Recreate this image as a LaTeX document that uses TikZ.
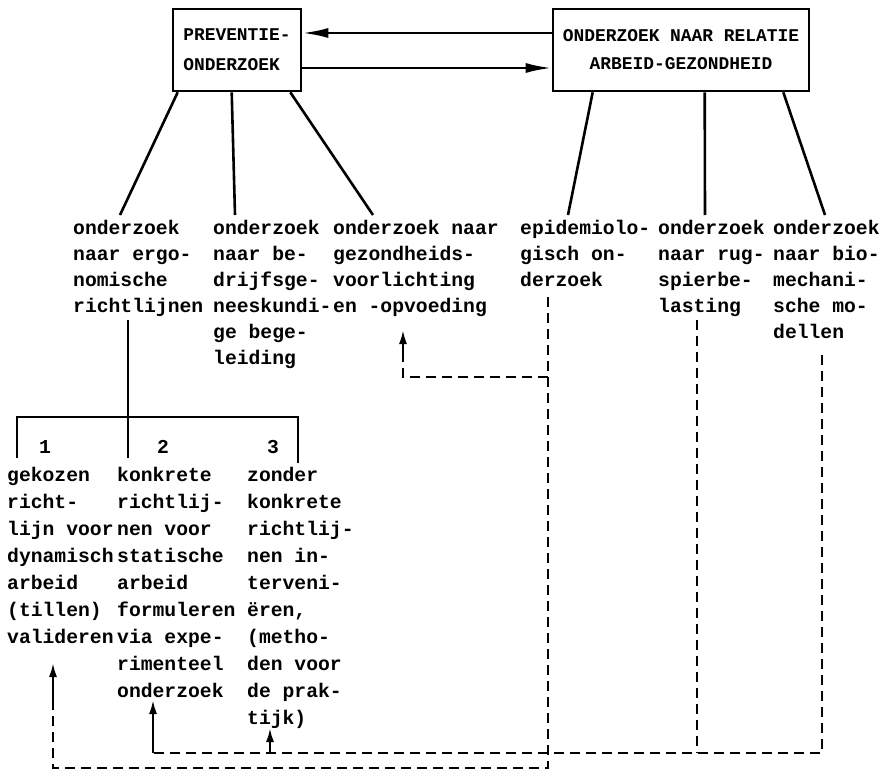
\documentclass[tikz,border=0pt]{standalone}
\usepackage{fontspec}
\setmainfont{Liberation Mono}
\usetikzlibrary{arrows.meta}

\tikzset{
  typed/.style     ={font=\bfseries\fontsize{19.7}{26}\selectfont},
  coltext/.style   ={typed, align=left, anchor=north west, inner sep=0pt},
  lowtext/.style   ={coltext, font=\bfseries\fontsize{19.7}{27}\selectfont},
  topbox/.style    ={draw, line width=2.6pt, minimum width=128pt, minimum height=82pt, inner sep=0pt,
                     font=\bfseries\fontsize{17.9}{30}\selectfont},
  solidline/.style ={line width=2.6pt},
  bigarrow/.style  ={line width=2.6pt, -{Latex[length=26pt,width=10pt]}},
  dashline/.style  ={line width=2.2pt, dash pattern=on 10pt off 6pt},
  arrowline/.style ={line width=2.2pt, -{Latex[length=14pt,width=8pt]}}
}

\begin{document}
\begin{tikzpicture}[x=1pt, y=-1pt]
 \useasboundingbox (0,0) rectangle (886,770);

 \node[topbox, align=left,   name=prevention]                      at (237,50)  {PREVENTIE-\\ONDERZOEK};
 \node[topbox, align=center, name=relation, minimum width=256pt,
       font=\bfseries\fontsize{17.9}{28}\selectfont]               at (681,50)  {ONDERZOEK NAAR RELATIE\\ARBEID-GEZONDHEID};

 \node[coltext, name=ergonomics]    at (73,220)  {onderzoek\\naar ergo-\\nomische\\richtlijnen};
 \node[coltext, name=company-care]  at (213,220) {onderzoek\\naar be-\\drijfsge-\\neeskundi-\\ge bege-\\leiding};
 \node[coltext, name=health-edu]    at (333,220) {onderzoek naar\\gezondheids-\\voorlichting\\en -opvoeding};
 \node[coltext, name=epidemiology]  at (520,220) {epidemiolo-\\gisch on-\\derzoek};
 \node[coltext, name=back-load]     at (658,220) {onderzoek\\naar rug-\\spierbe-\\lasting};
 \node[coltext, name=biomech]       at (773,220) {onderzoek\\naar bio-\\mechani-\\sche mo-\\dellen};

 \node[typed, name=num-one]         at (45,447)  {1};
 \node[typed, name=num-two]         at (163,447) {2};
 \node[typed, name=num-three]       at (273,447) {3};

 \node[lowtext, name=validate]      at (7,467)   {gekozen\\richt-\\lijn voor\\dynamisch\\arbeid\\(tillen)\\valideren};
 \node[lowtext, name=formulate]     at (117,467) {konkrete\\richtlij-\\nen voor\\statische\\arbeid\\formuleren\\via expe-\\rimenteel\\onderzoek};
 \node[lowtext, name=intervene]     at (247,467) {zonder\\konkrete\\richtlij-\\nen in-\\terveni-\\ëren,\\(metho-\\den voor\\de prak-\\tijk)};

 \draw[bigarrow] ([yshift=17pt]relation.west)     -- ([yshift=17pt]prevention.east);
 \draw[bigarrow] ([yshift=-18pt]prevention.east)  -- ([yshift=-18pt]relation.west);

 \draw[solidline] ([xshift=6pt]prevention.south west)   -- ([xshift=47pt,yshift=5pt]ergonomics.north west);
 \draw[solidline] ([xshift=60pt]prevention.south west)  -- ([xshift=22pt,yshift=5pt]company-care.north west);
 \draw[solidline] ([xshift=-12pt]prevention.south east) -- ([xshift=40pt,yshift=5pt]health-edu.north west);
 \draw[solidline] ([xshift=41pt]relation.south west)    -- ([xshift=48pt,yshift=5pt]epidemiology.north west);
 \draw[solidline] ([xshift=153pt]relation.south west)   -- ([xshift=47pt,yshift=5pt]back-load.north west);
 \draw[solidline] ([xshift=-27pt]relation.south east)   -- ([xshift=52pt,yshift=5pt]biomech.north west);

 \coordinate (fork)     at ([xshift=55pt,yshift=-197pt]ergonomics.north west);
 \draw[solidline] ([xshift=55pt,yshift=-100pt]ergonomics.north west) -- ([xshift=11pt,yshift=9pt]formulate.north west);
 \draw[solidline] ([xshift=10pt,yshift=9pt]validate.north west) |- (fork) -| ([xshift=51pt,yshift=4pt]intervene.north west);

 \coordinate (epi-top)  at ([xshift=28pt,yshift=-77pt]epidemiology.north west);
 \coordinate (back-top) at ([xshift=39pt,yshift=-100pt]back-load.north west);
 \coordinate (bio-top)  at ([xshift=49pt,yshift=-135pt]biomech.north west);
 \coordinate (edu-tip)  at ([xshift=70pt,yshift=-110pt]health-edu.north west);
 \coordinate (val-tip)  at ([xshift=46pt,yshift=-196pt]validate.north west);
 \coordinate (form-tip) at ([xshift=36pt,yshift=-233pt]formulate.north west);
 \coordinate (int-tip)  at ([xshift=23pt,yshift=-261pt]intervene.north west);

 \draw[dashline]  (epi-top) -- (epi-top |- 0,768) -| ([yshift=-37pt]val-tip);
 \draw[arrowline] ([yshift=-37pt]val-tip) -- (val-tip);
 \draw[dashline]  (epi-top |- 0,377) -| ([yshift=-23pt]edu-tip);
 \draw[arrowline] ([yshift=-23pt]edu-tip) -- (edu-tip);
 \draw[dashline]  (bio-top) |- (form-tip |- 0,753);
 \draw[dashline]  (back-top) -- (back-top |- 0,753);
 \draw[arrowline] (form-tip |- 0,753) -- (form-tip);
 \draw[arrowline] (int-tip |- 0,753) -- (int-tip);
\end{tikzpicture}
\end{document}
